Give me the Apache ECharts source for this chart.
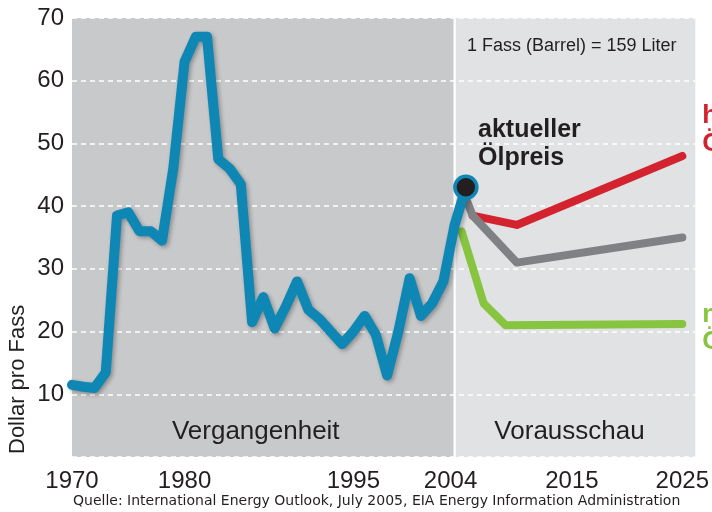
<!DOCTYPE html>
<html>
<head>
<meta charset="utf-8">
<script src="https://cdn.jsdelivr.net/npm/echarts@6/dist/echarts.min.js"></script>
<style>
    html, body { margin: 0; padding: 0; background: #fff; }
    #main { width: 712px; height: 512px; }
</style>
</head>
<body>
<div id="main"></div>
<script>
    // Ölpreis (Dollar pro Fass), Vergangenheit
    var histYears = [1970, 1971, 1972, 1973, 1974, 1975, 1976, 1977, 1978, 1979,
        1980, 1981, 1982, 1983, 1984, 1985, 1986, 1987, 1988, 1989,
        1990, 1991, 1992, 1993, 1994, 1995, 1996, 1997, 1998, 1999,
        2000, 2001, 2002, 2003, 2004, 2005];
    var histPrice = [11.5, 11.2, 11, 13.5, 38.5, 39, 36, 36, 34.5, 46,
        63, 67, 67, 47.5, 46, 43.5, 21.5, 25.5, 20.5, 24,
        28, 23.5, 22, 20, 18, 20, 22.5, 19.5, 13, 20,
        28.5, 22.5, 24.5, 28, 37, 43];

    // Vorausschau
    var highYears = [2006, 2010, 2025];
    var highPrice = [38.5, 37, 48];
    var refYears = [2005, 2006, 2010, 2025];
    var refPrice = [43, 38.5, 31, 35];
    var lowYears = [2005, 2007, 2009, 2025];
    var lowPrice = [36, 24.5, 21, 21.2];

    var currentYear = 2005;
    var currentPrice = 43;

    var histTicks = [1970, 1980, 1995];
    var forecastTicks = [2004, 2015, 2025];
    var yTicksMax = 70;

    function pairs(xs, ys) {
        return xs.map(function (x, i) { return [x, ys[i]]; });
    }

    var font = "'Liberation Sans', Arial, sans-serif";
    var ink = '#231f20';
    var blue = '#0f87b4';

    // the past and the forecast are drawn on slightly different scales
    var histMin = 1970, histMax = 2025.39;
    var foreMin = 1969.7, foreMax = 2026.18;

    function yearLabel(v) { return String(v); }

    var option = {
        animation: false,
        textStyle: { fontFamily: font },
        grid: { left: 72, right: 16, top: 18, bottom: 55 },
        xAxis: [
            {
                type: 'value', position: 'bottom', min: histMin, max: histMax,
                axisLine: { show: false }, axisTick: { show: false }, splitLine: { show: false },
                axisLabel: { customValues: histTicks, formatter: yearLabel, fontSize: 24, color: ink, margin: 12, fontFamily: font }
            },
            {
                type: 'value', position: 'bottom', min: foreMin, max: foreMax,
                axisLine: { show: false }, axisTick: { show: false }, splitLine: { show: false },
                axisLabel: { customValues: forecastTicks, formatter: yearLabel, fontSize: 24, color: ink, margin: 12, fontFamily: font }
            }
        ],
        yAxis: {
            type: 'value', min: 0, max: yTicksMax, interval: 10, z: 1,
            axisLine: { show: false }, axisTick: { show: false },
            axisLabel: {
                fontSize: 24, color: ink, margin: 8, fontFamily: font,
                formatter: function (v) { return v === 0 ? '' : v; }
            },
            splitLine: { lineStyle: { color: '#ffffff', width: 1.5, type: [5, 4] } }
        },
        graphic: [
            {
                type: 'text', left: 467, top: 37, z: 10,
                style: { text: '1 Fass (Barrel) = 159 Liter', font: '18px ' + font, fill: ink }
            },
            {
                type: 'text', left: 478, top: 116, z: 10,
                style: { text: 'aktueller\nÖlpreis', font: 'bold 25px ' + font, lineHeight: 28, fill: ink }
            },
            {
                type: 'text', x: 7, y: 454, rotation: Math.PI / 2, z: 10,
                style: { text: 'Dollar pro Fass', font: '22px ' + font, fill: ink }
            },
            {
                type: 'text', left: 73, top: 494, z: 10,
                style: { text: 'Quelle: International Energy Outlook, July 2005, EIA Energy Information Administration', font: "14px 'DejaVu Sans', sans-serif", fill: ink }
            }
        ],
        series: [
            {
                name: 'niedriger Ölpreis', type: 'line', xAxisIndex: 1, z: 2,
                data: pairs(lowYears, lowPrice), symbol: 'none',
                lineStyle: { color: '#87c440', width: 8, cap: 'round', join: 'round' },
                endLabel: {
                    show: true, formatter: 'niedriger\nÖlpreis', color: '#87c440',
                    fontSize: 26, fontWeight: 'bold', lineHeight: 27, distance: 20, offset: [0, 4]
                }
            },
            {
                name: 'hoher Ölpreis', type: 'line', xAxisIndex: 1, z: 2,
                data: pairs(highYears, highPrice), symbol: 'none',
                lineStyle: { color: '#d2232f', width: 8, cap: 'round', join: 'round' },
                endLabel: {
                    show: true, formatter: 'hoher\nÖlpreis', color: '#d2232f',
                    fontSize: 26, fontWeight: 'bold', lineHeight: 28, distance: 20, offset: [0, -26]
                }
            },
            {
                name: 'Referenz', type: 'line', xAxisIndex: 1, z: 3,
                data: pairs(refYears, refPrice), symbol: 'none',
                lineStyle: { color: '#808184', width: 8, cap: 'round', join: 'round' }
            },
            {
                name: 'Ölpreis', type: 'line', xAxisIndex: 0, z: 4,
                data: pairs(histYears, histPrice), symbol: 'none',
                lineStyle: {
                    color: blue, width: 10, cap: 'round', join: 'round',
                    shadowColor: 'rgba(0,0,0,0.3)', shadowBlur: 4, shadowOffsetX: 2, shadowOffsetY: 2
                },
                markArea: {
                    silent: true, z: 0,
                    label: {
                        show: true, position: 'insideBottom', distance: 12,
                        fontSize: 26, color: ink, fontFamily: font
                    },
                    data: [
                        [{ name: 'Vergangenheit', xAxis: histMin, itemStyle: { color: '#c8c9cb' }, label: { offset: [-7, 0] } },
                            { xAxis: 2003.9 }],
                        [{ name: 'Vorausschau', xAxis: 2004.1, itemStyle: { color: '#e1e2e4' }, label: { offset: [-6, 0] } },
                            { xAxis: histMax }]
                    ]
                }
            },
            {
                name: 'aktueller Ölpreis', type: 'scatter', xAxisIndex: 0, z: 5,
                data: [[currentYear, currentPrice]], symbolSize: 22,
                itemStyle: { color: ink, opacity: 1, borderColor: blue, borderWidth: 3.5 }
            }
        ]
    };

    var myChart = echarts.init(document.getElementById('main'));
    myChart.setOption(option);
</script>
</body>
</html>
